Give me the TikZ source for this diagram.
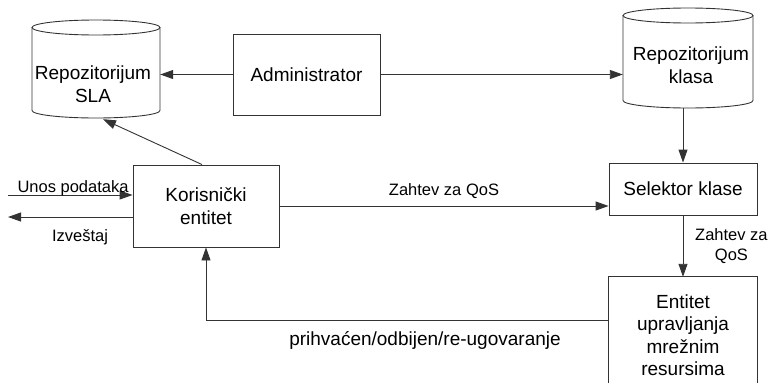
\documentclass[tikz,border=0pt]{standalone}
\usepackage{fontspec}
\setmainfont{Liberation Sans}
\usetikzlibrary{arrows.meta,calc}
\begin{document}
\begin{tikzpicture}[x=1pt,y=-1pt,
  ln/.style={draw=black!80,line width=0.9pt},
  arr/.style={ln,-{Triangle[length=13pt,width=9pt]}},
  boxtxt/.style={font=\fontsize{19}{23}\selectfont,align=center},
  lbl/.style={font=\fontsize{16.5}{20}\selectfont,align=center,inner sep=0pt},
  blk/.style={ln,rectangle,inner sep=0pt,boxtxt},
  ghost/.style={rectangle,inner sep=0pt}]
\useasboundingbox (0,0) rectangle (775,383);
\coordinate (bot) at (0,383);
% cylinders
\node[ghost,minimum width=128pt,minimum height=98pt] (sla) at (96,69) {};
\draw[ln] (96,27.5) ellipse [x radius=64pt, y radius=7.5pt];
\draw[ln] (32,27.5) -- (32,110.5) arc[start angle=180,end angle=360,x radius=64pt,y radius=7.5pt] -- (160,27.5);
\node[boxtxt] (slatxt) at (93,84) {Repozitorijum\\SLA};
\node[ghost,minimum width=130pt,minimum height=100pt] (kl) at (688,58) {};
\draw[ln] (688,15.5) ellipse [x radius=65pt, y radius=7.5pt];
\draw[ln] (623,15.5) -- (623,100.5) arc[start angle=180,end angle=360,x radius=65pt,y radius=7.5pt] -- (753,15.5);
\node[boxtxt] (kltxt) at (691,65) {Repozitorijum\\klasa};
% boxes
\node[blk,minimum width=147pt,minimum height=81pt] (adm) at (306.5,74.5) {Administrator};
\node[blk,minimum width=146pt,minimum height=82pt] (kor) at (206,206) {Korisnički\\entitet};
\node[blk,minimum width=148pt,minimum height=52pt] (sel) at (683,189) {Selektor klase};
\node[ghost,boxtxt,minimum width=148pt,minimum height=116pt,font=\fontsize{19}{22.5}\selectfont] (ent) at (683,335) {Entitet\\upravljanja\\mrežnim\\resursima};
\draw[ln] (ent.north west |- bot) -- (ent.north west) -- (ent.north east) -- (ent.north east |- bot);
% connectors
\draw[arr] (adm.west) -- (adm.west -| sla.east);
\draw[arr] (adm.east) -- (adm.east -| kl.west);
\draw[arr] ([xshift=-4pt]kor.north) -- ($(sla.south)+(7,1)$);
\draw[arr] (sel.north |- kl.south) -- (sel.north);
\draw[arr] (kor.east) -- node[lbl,above=7pt,pos=0.5] (lq) {Zahtev za QoS} (kor.east -| sel.west);
\draw[arr] (sel.south) -- (ent.north);
\node[lbl,anchor=west] (lq2) at (695,246) {Zahtev za\\QoS};
\draw[arr] ([yshift=15pt]ent.west) -| (kor.south);
\node[lbl,font=\fontsize{19}{23}\selectfont] (lret) at (425,340) {prihvaćen/odbijen/re-ugovaranje};
\coordinate (inp) at (8,195);
\coordinate (outp) at (8,217);
\draw[arr] (inp) -- (inp -| kor.west);
\node[lbl,anchor=base] (lin) at (73,192) {Unos podataka};
\draw[arr] (outp -| kor.west) -- (outp);
\node[lbl] (lout) at (80,237) {Izveštaj};
\end{tikzpicture}
\end{document}
